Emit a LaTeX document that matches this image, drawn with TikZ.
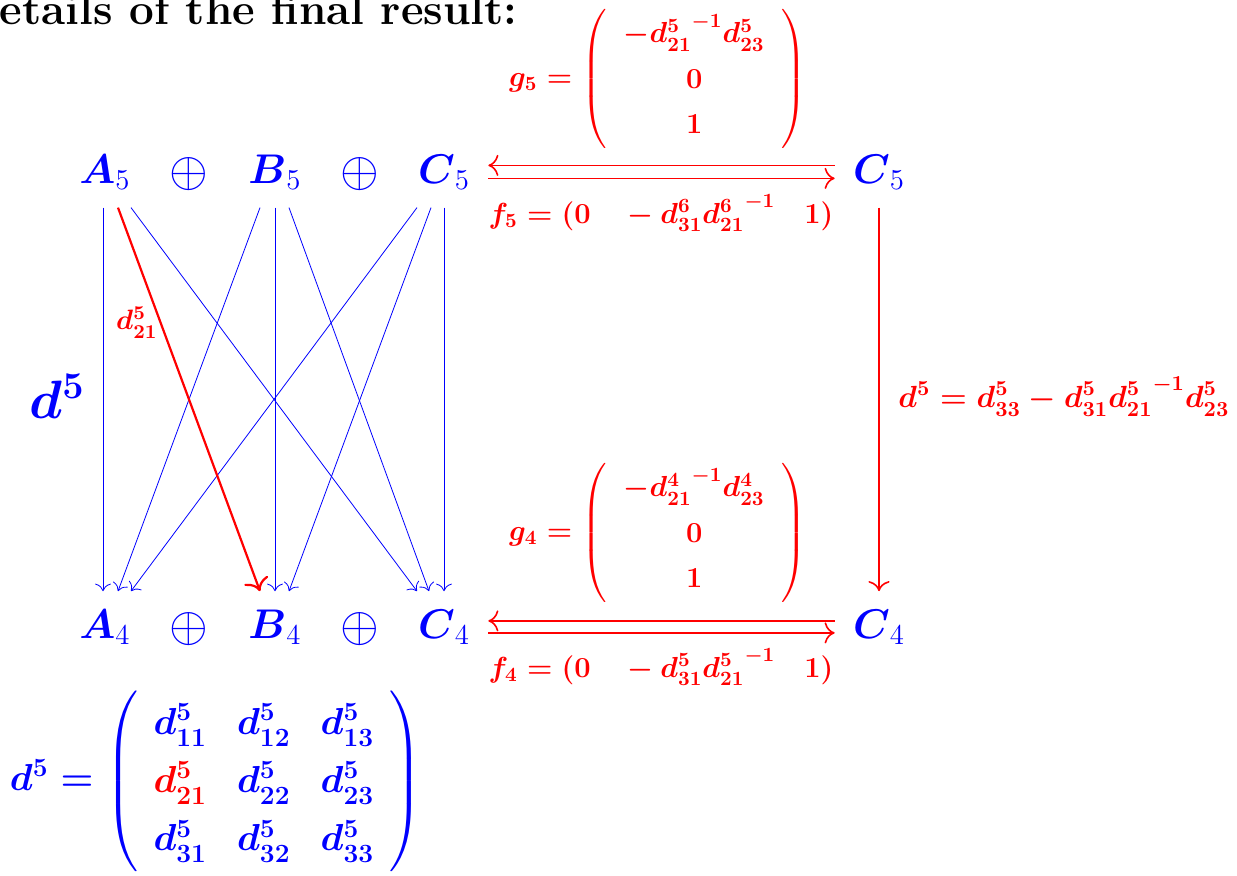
\RequirePackage{fix-cm}
\documentclass[tikz,border=0pt]{standalone}
\usepackage{amsmath,amssymb}
\usepackage{tikz}
\usepackage{xcolor}
\usetikzlibrary{arrows.meta,calc,positioning}
\colorlet{cxObj}{blue}
\colorlet{cxMap}{red}
\tikzset{
  cxobj/.style={
    anchor=base, inner sep=9pt, text=cxObj,
    font=\fontsize{20.74}{24}\selectfont
  },
  cxsum/.style={
    inner sep=0pt, text=cxObj,
    font=\fontsize{24.88}{28}\selectfont
  },
  cxlabel/.style={
    inner sep=1pt, text=cxMap, align=center,
    font=\fontsize{14.5}{17.6}\selectfont\boldmath
  },
  cxarrow/.style={-{Computer Modern Rightarrow[scale=1.5]}, thin, draw=cxObj},
  cxred/.style={-{Computer Modern Rightarrow[scale=1.5]}, line width=0.8pt, draw=cxMap}
}

\begin{document}
\begin{tikzpicture}[x=0.5pt,y=-0.5pt]
  \useasboundingbox (0,0) rectangle (1237,875);

  \node[anchor=base east, inner sep=0pt, font=\fontsize{22}{26}\selectfont\bfseries] (title) at (518,24)
    {etails of the final result:};

  % top row
  \node[cxobj] (A5) at (105,183) {$\boldsymbol{A}_5$};
  \node[cxsum] (s51) at (189,174) {$\oplus$};
  \node[cxobj] (B5) at (275,183) {$\boldsymbol{B}_5$};
  \node[cxsum] (s52) at (360,174) {$\oplus$};
  \node[cxobj] (C5) at (444,183) {$\boldsymbol{C}_5$};
  \node[cxobj] (C5r) at (879,183) {$\boldsymbol{C}_5$};

  % bottom row
  \node[cxobj] (A4) at (105,638) {$\boldsymbol{A}_4$};
  \node[cxsum] (s41) at (189,629) {$\oplus$};
  \node[cxobj] (B4) at (275,638) {$\boldsymbol{B}_4$};
  \node[cxsum] (s42) at (360,629) {$\oplus$};
  \node[cxobj] (C4) at (444,638) {$\boldsymbol{C}_4$};
  \node[cxobj] (C4r) at (879,638) {$\boldsymbol{C}_4$};

  \node[anchor=base, inner sep=0pt, text=cxObj, font=\fontsize{27}{31}\selectfont\boldmath] (dbig) at (57,418)
    {$d^5$};

  % the differential d^5
  \draw[cxarrow] ([xshift=-1pt]A5.south) -- ([xshift=-1pt]A4.north);
  \draw[cxarrow] ([xshift=13pt]A5.south) -- ([xshift=-13.5pt]C4.north);
  \draw[cxarrow] ([xshift=-7.5pt]B5.south) -- ([xshift=6.5pt]A4.north);
  \draw[cxarrow] (B5.south) -- (B4.north);
  \draw[cxarrow] ([xshift=7pt]B5.south) -- ([xshift=-7.5pt]C4.north);
  \draw[cxarrow] ([xshift=-13.5pt]C5.south) -- ([xshift=13pt]A4.north);
  \draw[cxarrow] ([xshift=-6.5pt]C5.south) -- ([xshift=7pt]B4.north);
  \draw[cxarrow] (C5.south) -- (C4.north);
  \draw[cxred, line width=1.1pt] ([xshift=6.5pt]A5.south) --
    node[cxlabel, pos=0.3, left, font=\fontsize{14}{16}\selectfont\boldmath] (lab21) {$d^5_{21}$}
    ([xshift=-7.5pt]B4.north);

  % maps to and from C
  \draw[cxred] ([yshift=3.25pt]C5r.west) -- ([yshift=3.25pt]C5.east);
  \draw[cxred] ([yshift=-3.25pt]C5.east) -- ([yshift=-3.25pt]C5r.west);
  \draw[cxred] ([yshift=3pt]C4r.west) -- ([yshift=3pt]C4.east);
  \draw[cxred] ([yshift=-3pt]C4.east) -- ([yshift=-3pt]C4r.west);
  \draw[cxred] (C5r.south) -- (C4r.north);

  \node[cxlabel] (g5) at (658,79)
    {$g_5=\renewcommand{\arraystretch}{1.28}\setlength{\arraycolsep}{8.5pt}
      \left(\begin{array}{c}-{d^{5}_{21}}^{-1}d^{5}_{23}\\ 0\\ 1\end{array}\right)$};
  \node[cxlabel, anchor=base] (f5) at (661,223)
    {$f_5=(0\quad -d^{6}_{31}{d^{6}_{21}}^{-1}\quad 1)$};
  \node[cxlabel] (g4) at (658,533)
    {$g_4=\renewcommand{\arraystretch}{1.28}\setlength{\arraycolsep}{8.5pt}
      \left(\begin{array}{c}-{d^{4}_{21}}^{-1}d^{4}_{23}\\ 0\\ 1\end{array}\right)$};
  \node[cxlabel, anchor=base] (f4) at (661,677)
    {$f_4=(0\quad -d^{5}_{31}{d^{5}_{21}}^{-1}\quad 1)$};
  \node[cxlabel, anchor=base west, font=\fontsize{15.3}{18}\selectfont\boldmath] (dnew) at (896,407)
    {$d^5=d^5_{33}-d^5_{31}{d^5_{21}}^{-1}d^5_{23}$};

  % the matrix of d^5
  \node[inner sep=0pt, text=cxObj, font=\fontsize{18.8}{23.4}\selectfont\boldmath] (dmat) at (216,781)
    {$d^5=\renewcommand{\arraystretch}{1.24}\setlength{\arraycolsep}{7.5pt}
      \left(\begin{array}{ccc}
        d^5_{11} & d^5_{12} & d^5_{13}\\
        \textcolor{cxMap}{d^5_{21}} & d^5_{22} & d^5_{23}\\
        d^5_{31} & d^5_{32} & d^5_{33}
      \end{array}\right)$};
\end{tikzpicture}
\end{document}
